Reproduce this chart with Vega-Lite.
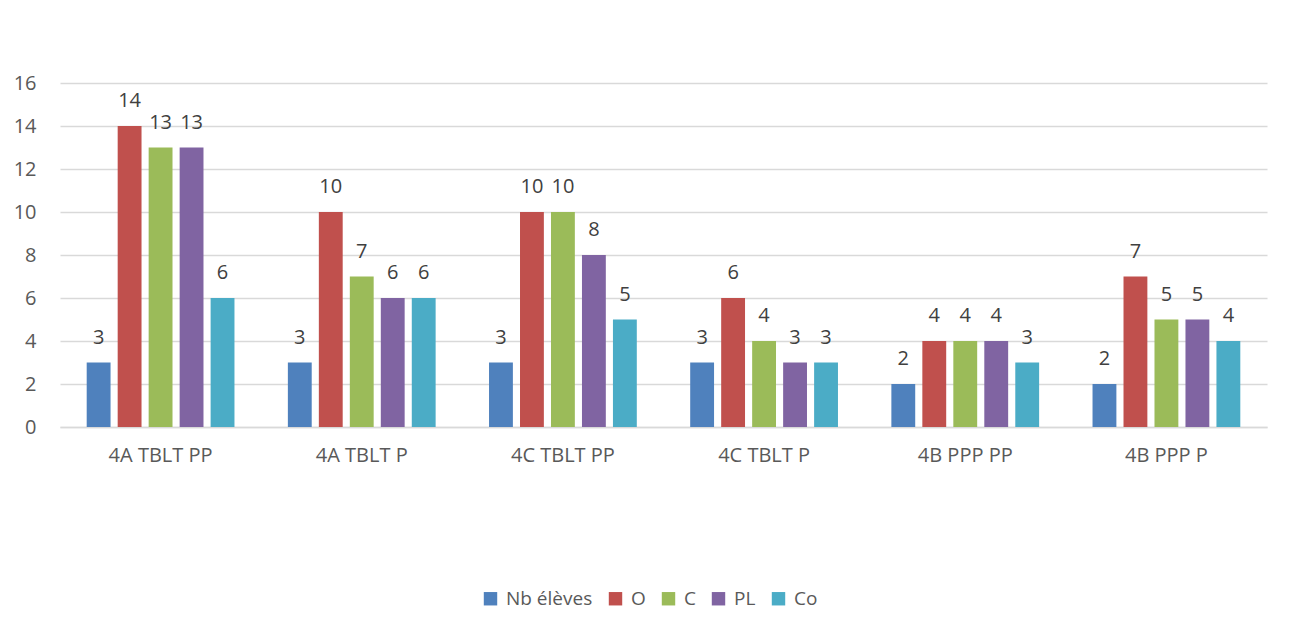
{
  "$schema": "https://vega.github.io/schema/vega-lite/v6.json",
  "autosize": "none",
  "width": 1207,
  "height": 344,
  "padding": {"left": 60, "top": 83, "right": 28, "bottom": 204},
  "background": "white",
  "config": {
    "view": {"stroke": null},
    "font": "Open Sans",
    "axis": {"labelColor": "#595959", "labelFont": "Open Sans", "labelFontSize": 20, "titleFontSize": 0},
    "legend": {"labelColor": "#595959", "labelFont": "Open Sans", "labelFontSize": 19}
  },
  "data": {
    "values": [
      {"classe": "4A TBLT PP", "serie": "Nb élèves", "v": 3},
      {"classe": "4A TBLT PP", "serie": "O", "v": 14},
      {"classe": "4A TBLT PP", "serie": "C", "v": 13},
      {"classe": "4A TBLT PP", "serie": "PL", "v": 13},
      {"classe": "4A TBLT PP", "serie": "Co", "v": 6},
      {"classe": "4A TBLT P", "serie": "Nb élèves", "v": 3},
      {"classe": "4A TBLT P", "serie": "O", "v": 10},
      {"classe": "4A TBLT P", "serie": "C", "v": 7},
      {"classe": "4A TBLT P", "serie": "PL", "v": 6},
      {"classe": "4A TBLT P", "serie": "Co", "v": 6},
      {"classe": "4C TBLT PP", "serie": "Nb élèves", "v": 3},
      {"classe": "4C TBLT PP", "serie": "O", "v": 10},
      {"classe": "4C TBLT PP", "serie": "C", "v": 10},
      {"classe": "4C TBLT PP", "serie": "PL", "v": 8},
      {"classe": "4C TBLT PP", "serie": "Co", "v": 5},
      {"classe": "4C TBLT P", "serie": "Nb élèves", "v": 3},
      {"classe": "4C TBLT P", "serie": "O", "v": 6},
      {"classe": "4C TBLT P", "serie": "C", "v": 4},
      {"classe": "4C TBLT P", "serie": "PL", "v": 3},
      {"classe": "4C TBLT P", "serie": "Co", "v": 3},
      {"classe": "4B PPP PP", "serie": "Nb élèves", "v": 2},
      {"classe": "4B PPP PP", "serie": "O", "v": 4},
      {"classe": "4B PPP PP", "serie": "C", "v": 4},
      {"classe": "4B PPP PP", "serie": "PL", "v": 4},
      {"classe": "4B PPP PP", "serie": "Co", "v": 3},
      {"classe": "4B PPP P", "serie": "Nb élèves", "v": 2},
      {"classe": "4B PPP P", "serie": "O", "v": 7},
      {"classe": "4B PPP P", "serie": "C", "v": 5},
      {"classe": "4B PPP P", "serie": "PL", "v": 5},
      {"classe": "4B PPP P", "serie": "Co", "v": 4}
    ]
  },
  "encoding": {
    "x": {
      "field": "classe", "type": "nominal", "sort": null,
      "scale": {"paddingInner": 0.23, "paddingOuter": 0.115},
      "axis": {"title": null, "labelAngle": 0, "ticks": false, "domainColor": "#d9d9d9", "domainWidth": 1.5, "labelPadding": 18, "grid": false}
    },
    "xOffset": {
      "field": "serie", "type": "nominal", "sort": ["Nb élèves", "O", "C", "PL", "Co"],
      "scale": {"paddingInner": 0.23, "paddingOuter": 0.115}
    },
    "y": {
      "field": "v", "type": "quantitative",
      "scale": {"domain": [0, 16], "nice": false},
      "axis": {"title": null, "values": [0, 2, 4, 6, 8, 10, 12, 14, 16], "ticks": false, "domain": false, "gridColor": "#d9d9d9", "gridWidth": 1.5, "labelPadding": 24}
    }
  },
  "layer": [
    {
      "mark": {"type": "bar"},
      "encoding": {
        "color": {
          "field": "serie", "type": "nominal", "sort": ["Nb élèves", "O", "C", "PL", "Co"],
          "scale": {"domain": ["Nb élèves", "O", "C", "PL", "Co"], "range": ["#4F81BD", "#C0504D", "#9BBB59", "#8064A2", "#4BACC6"]},
          "legend": {"title": null, "orient": "none", "legendX": 421, "legendY": 506, "direction": "horizontal", "symbolType": "square", "symbolSize": 180, "symbolStrokeWidth": 0, "columnPadding": 13, "labelOffset": 6}
        }
      }
    },
    {
      "mark": {"type": "text", "baseline": "alphabetic", "dy": -19, "fontSize": 20, "color": "#404040"},
      "encoding": {"text": {"field": "v", "type": "quantitative"}}
    }
  ]
}
